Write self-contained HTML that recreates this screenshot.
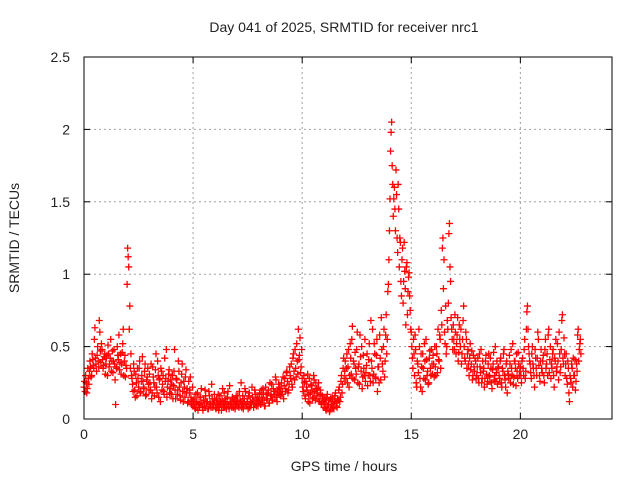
<!DOCTYPE html>
<html><head><meta charset="utf-8"><style>
body{margin:0;background:#fff;}
svg text{font-family:"Liberation Sans",sans-serif;font-size:14px;fill:#222;}
</style></head><body>
<svg id="chart" width="640" height="480" viewBox="0 0 640 480">
<rect width="640" height="480" fill="#fff"/>
<text x="344" y="32" text-anchor="middle">Day 041 of 2025, SRMTID for receiver nrc1</text>
<text transform="translate(19,238) rotate(-90)" text-anchor="middle">SRMTID / TECUs</text>
<text x="344" y="471" text-anchor="middle">GPS time / hours</text>
<g id="grid"></g><g id="marks"></g><g id="axes"></g>
</svg>
<script>
const xTicks=[0,5,10,15,20];
const yTicks=[0,0.5,1,1.5,2,2.5];
const yTickLabels=["0","0.5","1","1.5","2","2.5"];
const sampleStepHours=0.05;
const secondOffsetHours=0.025;
const srmtid=[
.22,.19,.25,.21,.28,.33,.36,.30,.41,.35,.63,.38,.44,.40,.68,.47,.52,.41,.37,.45,
.38,.44,.51,.36,.42,.33,.47,.40,.38,.10,.35,.44,.58,.39,.31,.46,.62,.40,.29,.35,
1.18,1.05,.78,.45,.28,.19,.33,.15,.25,.35,.22,.40,.18,.30,.26,.21,.38,.17,.29,.24,
.31,.20,.14,.36,.25,.22,.45,.18,.30,.27,.12,.33,.24,.19,.42,.28,.15,.26,.34,.21,
.17,.30,.23,.48,.14,.27,.20,.33,.16,.25,.38,.12,.22,.29,.18,.11,.26,.20,.15,.13,
.09,.14,.07,.12,.18,.10,.08,.15,.11,.06,.13,.20,.09,.12,.07,.16,.10,.24,.08,.11,
.13,.07,.10,.17,.09,.12,.06,.21,.11,.08,.14,.10,.19,.07,.12,.09,.15,.08,.13,.10,
.11,.16,.08,.13,.25,.10,.07,.14,.19,.09,.12,.16,.08,.11,.22,.13,.10,.17,.09,.14,
.12,.18,.10,.15,.21,.13,.09,.17,.14,.20,.11,.16,.24,.13,.19,.15,.27,.12,.18,.22,
.16,.25,.19,.14,.28,.21,.33,.18,.24,.30,.38,.22,.45,.27,.35,.52,.31,.41,.56,.36,
.28,.19,.25,.14,.22,.31,.17,.11,.24,.20,.15,.27,.13,.21,.18,.25,.12,.17,.10,.14,
.08,.13,.06,.17,.10,.05,.14,.09,.12,.07,.16,.11,.08,.13,.22,.15,.30,.24,.42,.33,
.28,.45,.36,.22,.52,.31,.64,.40,.27,.35,.48,.25,.38,.58,.33,.21,.44,.30,.26,.37,
.23,.41,.30,.68,.35,.25,.52,.29,.44,.19,.36,.58,.27,.48,.33,.62,.40,.72,.55,.93,
1.30,1.85,2.05,1.62,1.52,1.45,1.72,1.25,1.62,1.05,1.22,.85,1.18,.95,1.02,.65,1.08,.88,1.01,.75,
.60,.42,.55,.30,.48,.22,.38,.62,.28,.45,.19,.35,.52,.27,.41,.33,.25,.47,.30,.38,
.44,.29,.36,.50,.32,.41,.58,.35,.65,1.25,1.10,.52,.45,.68,.80,1.35,.95,.62,.48,.55,
.72,.45,.58,.40,.65,.50,.38,.55,.78,.42,.60,.35,.48,.30,.52,.38,.27,.44,.33,.40,
.30,.42,.25,.36,.48,.28,.33,.22,.40,.31,.26,.45,.29,.35,.21,.38,.27,.50,.32,.24,
.36,.28,.42,.22,.33,.48,.27,.38,.18,.31,.44,.25,.35,.52,.29,.40,.23,.33,.46,.30,
.36,.25,.42,.30,.55,.33,.74,.62,.45,.38,.28,.50,.35,.22,.42,.30,.60,.37,.26,.48,
.32,.44,.25,.55,.38,.30,.62,.41,.28,.35,.48,.22,.40,.33,.52,.27,.45,.36,.68,.42,
.56,.30,.45,.24,.35,.12,.28,.38,.22,.30,.41,.26,.33,.62,.48,.55
];
const srmtid2=[
.26,.30,.18,.35,.24,.40,.29,.45,.37,.55,.42,.33,.50,.36,.60,.39,.48,.35,.43,.31,
.42,.30,.45,.38,.55,.40,.32,.48,.27,.36,.50,.41,.34,.45,.38,.52,.30,.44,.37,.93,
1.12,.62,.35,.30,.24,.38,.20,.31,.16,.28,.35,.19,.26,.43,.22,.33,.16,.27,.35,.20,
.25,.38,.18,.29,.16,.34,.22,.40,.15,.28,.35,.20,.30,.17,.26,.48,.22,.31,.18,.27,
.24,.14,.33,.20,.28,.17,.40,.22,.13,.31,.19,.26,.15,.34,.21,.12,.18,.29,.10,.22,
.12,.08,.17,.11,.06,.15,.10,.21,.08,.13,.09,.16,.12,.07,.19,.11,.08,.14,.10,.17,
.08,.14,.11,.06,.16,.10,.13,.08,.18,.12,.07,.15,.09,.23,.11,.08,.14,.12,.07,.16,
.13,.09,.19,.12,.08,.16,.11,.21,.09,.14,.07,.18,.12,.10,.15,.08,.20,.11,.14,.09,
.15,.11,.20,.13,.17,.09,.22,.14,.18,.11,.25,.16,.13,.21,.17,.29,.15,.20,.24,.18,
.21,.17,.29,.23,.19,.32,.26,.20,.36,.28,.24,.42,.33,.48,.29,.40,.62,.44,.32,.48,
.22,.30,.16,.26,.20,.12,.28,.18,.23,.14,.30,.19,.25,.16,.22,.14,.20,.11,.16,.12,
.11,.07,.15,.09,.13,.06,.10,.15,.08,.12,.18,.09,.14,.20,.12,.26,.18,.35,.28,.40,
.35,.25,.48,.30,.42,.55,.28,.38,.46,.31,.60,.36,.24,.43,.50,.29,.35,.55,.32,.45,
.30,.52,.26,.40,.62,.31,.45,.28,.55,.36,.25,.42,.70,.38,.50,.29,.58,.45,.88,1.10,
1.52,1.98,1.75,1.40,1.60,1.30,1.55,1.15,1.45,1.25,.95,1.10,.80,1.22,.90,1.05,.72,.98,.85,.62,
.50,.35,.45,.58,.25,.40,.32,.50,.22,.36,.45,.28,.40,.55,.30,.24,.42,.35,.48,.31,
.38,.50,.30,.45,.62,.40,.55,.75,1.18,.90,.60,.78,.50,.62,1.28,1.05,.70,.55,.65,.48,
.60,.52,.70,.46,.55,.62,.45,.68,.50,.40,.55,.45,.38,.42,.34,.47,.30,.36,.42,.28,
.36,.28,.45,.32,.25,.40,.35,.28,.44,.24,.38,.30,.42,.25,.34,.46,.30,.26,.40,.35,
.30,.40,.25,.35,.45,.30,.22,.40,.33,.28,.38,.48,.30,.24,.40,.35,.45,.28,.38,.33,
.30,.40,.35,.48,.28,.62,.78,.50,.40,.32,.45,.38,.30,.48,.35,.42,.55,.30,.40,.35,
.40,.30,.48,.35,.45,.58,.32,.50,.38,.45,.30,.42,.55,.36,.40,.60,.32,.48,.72,.38,
.45,.38,.28,.40,.18,.30,.25,.35,.42,.30,.20,.38,.58,.40,.52,.45
];
const L=84,R=612,T=57,B=419,XMAX=24.2,YMAX=2.5;
const xs=v=>L+v/XMAX*(R-L);
const ys=v=>B-v/YMAX*(B-T);
const NS="http://www.w3.org/2000/svg";
function mk(tag,attrs,parent){const e=document.createElementNS(NS,tag);for(const k in attrs)e.setAttribute(k,attrs[k]);parent.appendChild(e);return e;}
const grid=document.getElementById('grid'),marks=document.getElementById('marks'),axes=document.getElementById('axes');
xTicks.forEach(t=>{if(t>0){const g=mk('line',{x1:xs(t),x2:xs(t),y1:T,y2:B,stroke:'#a0a0a0','stroke-dasharray':'2,3'},grid);

}
const lab=mk('text',{x:xs(t),y:B+20,'text-anchor':'middle'},axes);lab.textContent=t;


mk('line',{x1:xs(t),x2:xs(t),y1:B,y2:B-6,stroke:'#000'},axes);mk('line',{x1:xs(t),x2:xs(t),y1:T,y2:T+6,stroke:'#000'},axes);});
yTicks.forEach((t,i)=>{if(t>0&&t<YMAX){const g=mk('line',{x1:L,x2:R,y1:ys(t),y2:ys(t),stroke:'#a0a0a0','stroke-dasharray':'2,3'},grid);

}
const lab=mk('text',{x:L-14,y:ys(t)+5,'text-anchor':'end'},axes);lab.textContent=yTickLabels[i];


mk('line',{x1:L,x2:L+6,y1:ys(t),y2:ys(t),stroke:'#000'},axes);mk('line',{x1:R,x2:R-6,y1:ys(t),y2:ys(t),stroke:'#000'},axes);});
const frame=mk('rect',{x:L,y:T,width:R-L,height:B-T,fill:'none',stroke:'#000'},axes);


function plus(x,y){return `M${x-3.5},${y}h7M${x},${y-3.5}v7`;}
let d='';
srmtid.forEach((v,i)=>{d+=plus(xs(i*sampleStepHours),ys(v));});
srmtid2.forEach((v,i)=>{d+=plus(xs(i*sampleStepHours+secondOffsetHours),ys(v));});
const p=mk('path',{d:d,stroke:'#ff0000','stroke-width':1.3,fill:'none'},marks);


</script>
</body></html>
